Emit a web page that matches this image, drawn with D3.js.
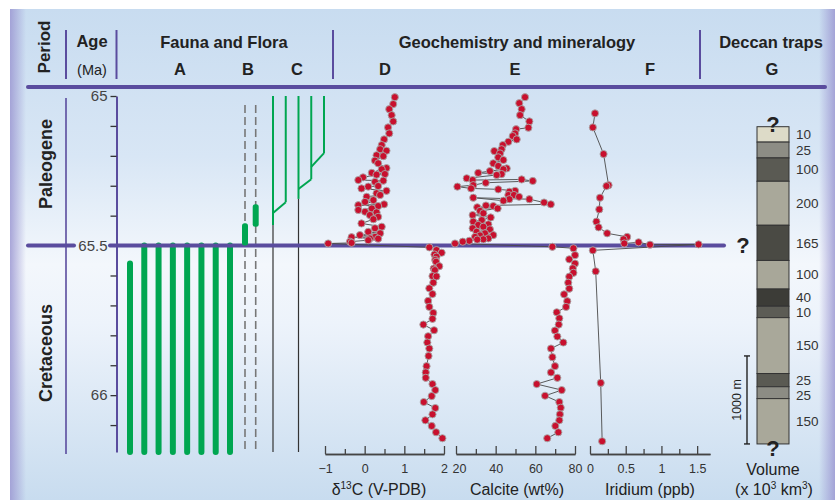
<!DOCTYPE html>
<html>
<head>
<meta charset="utf-8">
<script src="https://cdn.jsdelivr.net/npm/d3@7"></script>
<style>
  body { margin: 0; background: #fff; }
  svg { display: block; font-family: "Liberation Sans", Arial, sans-serif; }
</style>
</head>
<body>
<svg id="chart" width="835" height="500"></svg>
<script>
// ---- data ----
const ageTicks = [65, 65.1, 65.2, 65.3, 65.4, 65.5, 65.6, 65.7, 65.8, 65.9, 66, 66.1];
const ageLabels = [65, 65.5, 66];
const ageBase = 66.19;

// column A: range bars (top age), all run to the base
const aTops = [65.56, 65.5, 65.5, 65.5, 65.5, 65.5, 65.5, 65.5];
// column B: dashed ranges and green occurrences
const bRange = [65.03, 66.19];
const bGreen = [[65.425, 65.5], [65.362, 65.437]];
// column C: lineage index, from age, to age
const cGreen = [[0, 65.0, 65.431], [1, 65.0, 65.355], [2, 65.0, 65.344], [3, 65.0, 65.278], [4, 65.0, 65.191]];
const cBranch = [[0, 65.391, 1, 65.355], [2, 65.311, 3, 65.278], [3, 65.237, 4, 65.191]];
const cBlack = [[0, 65.431, 66.19], [2, 65.344, 66.19]];

// D: [age, d13C]
const d13C = [
  [65.004,0.76],[65.027,0.72],[65.044,0.62],[65.064,0.68],[65.085,0.72],[65.105,0.59],[65.125,0.62],[65.145,0.49],
  [65.164,0.43],[65.178,0.39],[65.183,0.55],[65.198,0.30],[65.201,0.47],[65.216,0.26],[65.225,0.34],[65.241,0.55],
  [65.245,0.43],[65.257,0.18],[65.261,0.51],[65.263,0.30],[65.272,-0.04],[65.281,-0.16],[65.283,0.47],[65.287,0.26],
  [65.301,0.34],[65.303,0.09],[65.309,-0.08],[65.317,0.55],[65.325,0.30],[65.331,0.39],[65.337,0.05],[65.348,0.22],
  [65.354,0.01],[65.362,0.49],[65.365,-0.16],[65.368,0.34],[65.376,0.18],[65.381,-0.16],[65.387,0.01],[65.389,0.30],
  [65.398,0.13],[65.404,0.34],[65.412,0.22],[65.426,-0.08],[65.437,0.43],[65.442,0.26],[65.454,0.09],[65.459,0.39],
  [65.465,-0.12],[65.471,0.26],[65.472,-0.33],[65.476,0.13],[65.477,0.34],[65.482,0.09],[65.487,-0.37],[65.491,-0.33],
  [65.493,-0.92],
  [65.506,1.63],[65.515,1.81],[65.524,1.94],[65.530,1.76],[65.537,1.81],[65.548,1.78],[65.554,1.80],[65.569,1.88],
  [65.577,1.74],[65.582,1.77],[65.602,1.71],[65.603,1.81],[65.624,1.73],[65.643,1.63],[65.662,1.71],[65.685,1.60],
  [65.705,1.63],[65.725,1.73],[65.745,1.71],[65.764,1.48],[65.783,1.75],[65.803,1.60],[65.824,1.58],[65.844,1.63],
  [65.869,1.61],[65.903,1.56],[65.924,1.54],[65.942,1.54],[65.963,1.71],[65.983,1.78],[66.003,1.69],[66.023,1.49],
  [66.043,1.78],[66.064,1.71],[66.084,1.53],[66.103,1.69],[66.124,1.80],[66.144,1.96]
];

// E: [age, calcite wt%]
const calcite = [
  [65.004,54.8],[65.024,51.9],[65.044,53.1],[65.064,52.3],[65.085,57.0],[65.106,56.5],[65.111,50.3],[65.125,49.8],
  [65.134,48.6],[65.145,50.6],[65.153,46.4],[65.164,43.6],[65.178,43.0],[65.184,39.3],[65.192,42.2],[65.205,41.3],
  [65.214,43.9],[65.225,38.8],[65.234,41.3],[65.242,45.6],[65.245,43.9],[65.251,37.1],[65.257,31.2],[65.261,43.0],
  [65.264,40.5],[65.275,25.4],[65.281,28.4],[65.279,53.1],[65.284,58.7],[65.290,35.0],[65.298,28.7],[65.303,20.7],
  [65.309,27.6],[65.312,41.3],[65.317,49.8],[65.320,46.9],[65.331,46.4],[65.331,49.2],[65.337,51.8],[65.345,46.9],
  [65.350,43.9],[65.340,28.7],[65.345,57.0],[65.356,64.4],[65.362,67.8],[65.366,35.1],[65.368,38.8],[65.372,30.7],
  [65.376,41.0],[65.384,32.1],[65.392,33.8],[65.398,28.4],[65.406,37.5],[65.415,33.0],[65.420,28.7],[65.429,36.3],
  [65.431,31.2],[65.437,33.8],[65.442,28.4],[65.446,37.1],[65.454,30.4],[65.459,34.6],[65.465,38.8],[65.466,32.1],
  [65.471,29.6],[65.476,36.3],[65.479,33.8],[65.480,30.7],[65.484,26.7],[65.487,23.4],[65.493,19.5],
  [65.504,68.6],[65.509,79.2],[65.532,80.0],[65.546,77.1],[65.560,80.0],[65.576,78.9],[65.591,79.2],[65.604,77.1],
  [65.624,76.6],[65.644,77.1],[65.663,74.5],[65.686,76.1],[65.705,75.5],[65.723,70.8],[65.743,72.1],[65.764,71.8],
  [65.784,69.9],[65.804,71.1],[65.824,74.1],[65.844,67.9],[65.873,68.6],[65.903,69.9],[65.924,67.9],[65.942,71.1],
  [65.963,60.7],[65.983,73.3],[66.002,64.9],[66.023,72.1],[66.042,72.8],[66.064,72.4],[66.084,72.1],[66.103,70.1],
  [66.124,71.6],[66.144,66.0]
];

// F: [age, iridium ppb] in sampling order
const iridium = [
  [65.058,0.07],[65.105,0.04],[65.194,0.19],[65.298,0.26],[65.301,0.23],[65.340,0.14],[65.379,0.13],[65.420,0.09],
  [65.439,0.12],[65.459,0.24],[65.471,0.52],[65.479,0.47],[65.493,0.48],[65.489,0.68],[65.497,0.84],[65.496,1.52],
  [65.516,0.04],[65.586,0.08],[65.959,0.15],[66.154,0.17]
];

// G: Deccan traps units, top to bottom
const gVolume = [10, 25, 100, 200, 165, 100, 40, 10, 150, 25, 25, 150];
const gThick = [175, 180, 265, 500, 400, 325, 195, 130, 635, 150, 135, 515]; // metres
const gShade = ["#dddbc8", "#8d8d85", "#5a5a53", "#a9a89a", "#4a4a44", "#a8a799", "#3c3c37", "#5c5c55", "#a9a89a", "#5a5a53", "#8c8c84", "#a9a89a"];

// ---- drawing ----
const svg = d3.select("#chart");
const purple = "#5a4c9e", green = "#00a651", dotRed = "#c8102e";

const defs = svg.append("defs");
const bg = defs.append("linearGradient").attr("id", "bg").attr("x1", 0).attr("y1", 0).attr("x2", 0).attr("y2", 1);
[[0, "#c8dcf0"], [0.3, "#d8e6f5"], [0.52, "#f3f7fc"], [0.64, "#edf3fb"], [1, "#c8dcef"]]
  .forEach(s => bg.append("stop").attr("offset", s[0]).attr("stop-color", s[1]));
const sideL = defs.append("linearGradient").attr("id", "sideL").attr("x1", 0).attr("x2", 1);
sideL.append("stop").attr("offset", 0).attr("stop-color", "#9c98d2").attr("stop-opacity", 0.85);
sideL.append("stop").attr("offset", 1).attr("stop-color", "#9c98d2").attr("stop-opacity", 0);
const sideR = defs.append("linearGradient").attr("id", "sideR").attr("x1", 1).attr("x2", 0);
sideR.append("stop").attr("offset", 0).attr("stop-color", "#9c98d2").attr("stop-opacity", 0.85);
sideR.append("stop").attr("offset", 1).attr("stop-color", "#9c98d2").attr("stop-opacity", 0);

svg.append("rect").attr("x", 10).attr("y", 9).attr("width", 825).attr("height", 491).attr("fill", "url(#bg)");
svg.append("rect").attr("x", 10).attr("y", 9).attr("width", 16).attr("height", 491).attr("fill", "url(#sideL)");
svg.append("rect").attr("x", 819).attr("y", 9).attr("width", 16).attr("height", 491).attr("fill", "url(#sideR)");

// Scales
const y = d3.scaleLinear().domain([65, ageBase]).range([96, 452]);
const xD = d3.scaleLinear().domain([-1, 2]).range([325, 444]);
const xE = d3.scaleLinear().domain([20, 80]).range([456, 575]);
const xF = d3.scaleLinear().domain([0, 1.68]).range([590, 710]);
const xA = d3.scalePoint().domain(d3.range(aTops.length)).range([130, 230]);
const xB = d3.scalePoint().domain([0, 1]).range([245, 255.7]);
const xC = d3.scalePoint().domain(d3.range(5)).range([273, 324]);

// Header
svg.append("line").attr("x1", 28).attr("x2", 825).attr("y1", 87).attr("y2", 87)
  .attr("stroke", purple).attr("stroke-width", 4).attr("stroke-linecap", "round");
[66, 116.5, 333, 700].forEach(x => {
  svg.append("line").attr("x1", x).attr("x2", x).attr("y1", 30).attr("y2", 79)
    .attr("stroke", purple).attr("stroke-width", 2);
});

const head = (t, x, yy, size, weight) => svg.append("text").attr("x", x).attr("y", yy)
  .attr("text-anchor", "middle").style("font-size", size + "px").style("font-weight", weight || "bold")
  .attr("fill", "#222").text(t);

svg.append("text").attr("transform", "translate(50,47) rotate(-90)").attr("text-anchor", "middle")
  .style("font-size", "17px").style("font-weight", "bold").attr("fill", "#222").text("Period");
head("Age", 92, 47, 16.5);
head("(Ma)", 92, 75, 14.5, "normal");
head("Fauna and Flora", 224, 48, 16.5);
head("Geochemistry and mineralogy", 517, 48, 16.5);
head("Deccan traps", 771, 48, 16.5);
[["A", 180], ["B", 248], ["C", 297], ["D", 385], ["E", 515], ["F", 650], ["G", 772]]
  .forEach(d => head(d[0], d[1], 75, 16.5));

// Period column
svg.append("line").attr("x1", 66).attr("x2", 66).attr("y1", 98).attr("y2", 454)
  .attr("stroke", purple).attr("stroke-width", 1.6);
svg.append("text").attr("transform", "translate(52,164) rotate(-90)").attr("text-anchor", "middle")
  .style("font-size", "18px").style("font-weight", "bold").attr("fill", "#222").text("Paleogene");
svg.append("text").attr("transform", "translate(52,353) rotate(-90)").attr("text-anchor", "middle")
  .style("font-size", "18px").style("font-weight", "bold").attr("fill", "#222").text("Cretaceous");

// Age axis
const ageAxis = svg.append("g").attr("transform", "translate(116.5,0)")
  .call(d3.axisLeft(y).tickValues(ageTicks).tickSizeInner(6).tickSizeOuter(0).tickPadding(3)
    .tickFormat(d => ageLabels.some(a => Math.abs(a - d) < 1e-6) ? String(d) : ""));
ageAxis.select(".domain").attr("stroke", purple).attr("stroke-width", 2);
ageAxis.selectAll(".tick line").attr("stroke", "#333").attr("stroke-width", 1.3);
ageAxis.selectAll(".tick text").attr("fill", "#444").style("font-size", "15px")
  .style("font-family", "'Liberation Sans', Arial, sans-serif");

// Column B dashed ranges
xB.domain().forEach(i => {
  svg.append("line").attr("x1", xB(i)).attr("x2", xB(i)).attr("y1", y(bRange[0])).attr("y2", y(bRange[1]))
    .attr("stroke", "#777").attr("stroke-width", 1.6).attr("stroke-dasharray", "8,4");
});

// Column C black stems
cBlack.forEach(d => {
  svg.append("line").attr("x1", xC(d[0])).attr("x2", xC(d[0])).attr("y1", y(d[1])).attr("y2", y(d[2]))
    .attr("stroke", "#333").attr("stroke-width", 1.2);
});
// Column C green lineages
cGreen.forEach(d => {
  svg.append("line").attr("x1", xC(d[0])).attr("x2", xC(d[0])).attr("y1", y(d[1])).attr("y2", y(d[2]))
    .attr("stroke", green).attr("stroke-width", 2);
});
cBranch.forEach(d => {
  svg.append("line").attr("x1", xC(d[0])).attr("x2", xC(d[2])).attr("y1", y(d[1])).attr("y2", y(d[3]))
    .attr("stroke", green).attr("stroke-width", 2);
});

// Column A bars
svg.selectAll(".barA").data(aTops).enter().append("line")
  .attr("x1", (d, i) => xA(i)).attr("x2", (d, i) => xA(i))
  .attr("y1", d => y(d)).attr("y2", y(ageBase))
  .attr("stroke", green).attr("stroke-width", 6).attr("stroke-linecap", "round");

// K-Pg boundary
const yb = y(65.5);
svg.append("line").attr("x1", 28).attr("x2", 74).attr("y1", yb).attr("y2", yb)
  .attr("stroke", purple).attr("stroke-width", 4).attr("stroke-linecap", "round");
svg.append("line").attr("x1", 110).attr("x2", 724).attr("y1", yb).attr("y2", yb)
  .attr("stroke", purple).attr("stroke-width", 4).attr("stroke-linecap", "round");

// Column B green occurrences
bGreen.forEach((d, i) => {
  svg.append("rect").attr("x", xB(i) - 3).attr("width", 6).attr("y", y(d[0])).attr("height", y(d[1]) - y(d[0]))
    .attr("rx", 2.5).attr("fill", green);
});

// Geochemistry series
function series(data, xs) {
  svg.append("path").datum(data)
    .attr("d", d3.line().x(d => xs(d[1])).y(d => y(d[0])))
    .attr("fill", "none").attr("stroke", "#4a4a4a").attr("stroke-width", 0.9);
  svg.append("g").selectAll("circle").data(data).enter().append("circle")
    .attr("cx", d => xs(d[1])).attr("cy", d => y(d[0])).attr("r", 3.6)
    .attr("fill", dotRed).attr("stroke", "#a8a8a8").attr("stroke-width", 0.9);
}
series(d13C, xD);
series(calcite, xE);
series(iridium, xF);

// Bottom axes
function bottomAxis(scale, major, minor) {
  const g = svg.append("g").attr("transform", "translate(0,454)");
  g.append("g").call(d3.axisBottom(scale).tickValues(minor).tickSizeInner(-5).tickSizeOuter(0).tickFormat(""));
  g.append("g").call(d3.axisBottom(scale).tickValues(major).tickSizeInner(-8).tickSizeOuter(0).tickPadding(10)
    .tickFormat(d3.format("")));
  g.selectAll("path, line").attr("stroke", "#444").attr("stroke-width", 1.3);
  g.selectAll("text").attr("fill", "#333").style("font-size", "12.5px")
    .style("font-family", "'Liberation Sans', Arial, sans-serif");
  return g;
}
bottomAxis(xD, [-1, 0, 1, 2], [-0.5, 0.5, 1.5]);
bottomAxis(xE, [20, 40, 60, 80], [30, 50, 70]).selectAll(".tick text").attr("dx", d => d === 20 ? 3 : 0);
bottomAxis(xF, [0, 0.5, 1, 1.5], [0.25, 0.75, 1.25]);

const dLab = svg.append("text").attr("x", 379).attr("y", 495).attr("text-anchor", "middle")
  .style("font-size", "16px").attr("fill", "#222");
dLab.append("tspan").text("δ");
dLab.append("tspan").attr("dy", -6).style("font-size", "10px").text("13");
dLab.append("tspan").attr("dy", 6).text("C (V-PDB)");
svg.append("text").attr("x", 517).attr("y", 495).attr("text-anchor", "middle")
  .style("font-size", "16px").attr("fill", "#222").text("Calcite (wt%)");
svg.append("text").attr("x", 650).attr("y", 495).attr("text-anchor", "middle")
  .style("font-size", "16px").attr("fill", "#222").text("Iridium (ppb)");

// Deccan traps column
const tScale = d3.scaleLinear().domain([0, 1000]).range([0, 88]);
const gTop = 126.7;
const gStart = [0].concat(Array.from(d3.cumsum(gThick)));
const gx = 757, gw = 32;
let lastLabel = -Infinity;
gThick.forEach((t, i) => {
  const y0 = gTop + tScale(gStart[i]), h = tScale(t);
  svg.append("rect").attr("x", gx).attr("y", y0).attr("width", gw).attr("height", h)
    .attr("fill", gShade[i]).attr("stroke", "#333").attr("stroke-width", 1);
  const ly = Math.max(y0 + h / 2, lastLabel + 15);
  lastLabel = ly;
  svg.append("text").attr("x", 796).attr("y", ly).attr("dy", "0.35em")
    .style("font-size", "13.5px").attr("fill", "#333").text(gVolume[i]);
});
const gBottom = gTop + tScale(gStart[gStart.length - 1]);

const qMark = (x, yy) => svg.append("text").attr("x", x).attr("y", yy).attr("text-anchor", "middle")
  .style("font-size", "22px").style("font-weight", "bold").attr("fill", "#222").text("?");
qMark(773, 132);
qMark(773, 456);
qMark(743, 253);

// 1000 m scale bar
const sb0 = gBottom - tScale(1000);
svg.append("line").attr("x1", 747).attr("x2", 747).attr("y1", sb0).attr("y2", gBottom).attr("stroke", "#222").attr("stroke-width", 1.4);
[sb0, gBottom].forEach(v => svg.append("line").attr("x1", 744).attr("x2", 750).attr("y1", v).attr("y2", v)
  .attr("stroke", "#222").attr("stroke-width", 1.4));
svg.append("text").attr("transform", `translate(741,${(sb0 + gBottom) / 2}) rotate(-90)`).attr("text-anchor", "middle")
  .style("font-size", "12.5px").attr("fill", "#222").text("1000 m");

svg.append("text").attr("x", 773).attr("y", 475).attr("text-anchor", "middle")
  .style("font-size", "16px").attr("fill", "#222").text("Volume");
const vLab = svg.append("text").attr("x", 774).attr("y", 495).attr("text-anchor", "middle")
  .style("font-size", "16px").attr("fill", "#222");
vLab.append("tspan").text("(x 10");
vLab.append("tspan").attr("dy", -6).style("font-size", "10px").text("3");
vLab.append("tspan").attr("dy", 6).text(" km");
vLab.append("tspan").attr("dy", -6).style("font-size", "10px").text("3");
vLab.append("tspan").attr("dy", 6).text(")");
</script>
</body>
</html>
